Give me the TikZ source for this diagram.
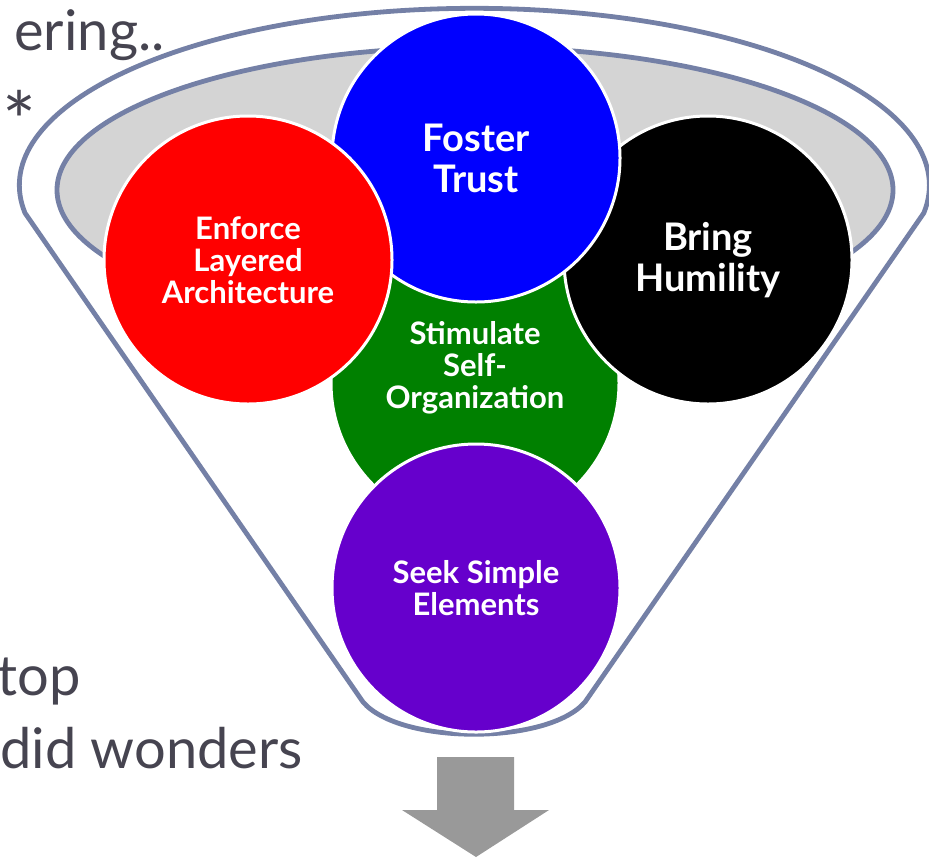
\documentclass[tikz,border=0pt]{standalone}
\usepackage{fontspec}
\setmainfont{Lato}
\usepackage{xcolor}
\usepackage{tikz}

\definecolor{rim}{RGB}{116,128,166}
\definecolor{rimfill}{RGB}{212,212,212}
\definecolor{slide}{RGB}{70,68,80}
\definecolor{ballgreen}{RGB}{0,128,0}
\definecolor{ballpurple}{RGB}{102,0,204}
\definecolor{arrowgrey}{RGB}{153,153,153}

\tikzset{
	ball/.style={circle, draw=white, line width=1.5pt, inner sep=0pt,
		minimum size=144pt, text=white, align=center,
		font=\bfseries\fontsize{15.5}{16}\selectfont},
	bigball/.style={ball, font=\bfseries\fontsize{19}{20.5}\selectfont},
	slidetext/.style={anchor=base west, inner sep=0pt, text=slide,
		font=\fontsize{28}{34}\selectfont}
}

\begin{document}
\begin{tikzpicture}[x=0.5pt,y=-0.5pt]
				\useasboundingbox (0,0) rectangle (929,857);
				\clip (0,0) rectangle (929,857);
				
				% slide text behind the funnel
				\node[slidetext] (hdr) at (14,50) {ering..};
				\node[slidetext, font=\fontsize{40}{44}\selectfont] (star) at (2,150) {*};
				\node[slidetext] (top) at (-3,695) {top};
				\node[slidetext] (won) at (0,768) {did wonders};
				
				% funnel
				\draw[rim, line width=2.4pt, fill=white]
					(25,213) arc[start angle=171, end angle=369, x radius=455, y radius=177]
					-- (585,702) .. controls (548,745) and (400,745) .. (363,702) -- cycle;
				\draw[rim, line width=2.4pt, fill=rimfill] (475,190) ellipse [x radius=418, y radius=143];
				
				\foreach \x/\y/\z in
				{G/475/383, K/708/260, B/476/158, R/248/260, P/476/588}{
					\coordinate(\x) at (\y,\z);
				}
				
				% balls, back to front
				\node[ball, fill=ballgreen] (self) at (G) {};
				\node[ball, draw=none, fill=none, minimum size=0pt]
					(selftxt) at ([yshift=7.5pt]G) {Stimulate\\Self-\\Organization};
				\node[bigball, fill=black] (hum) at (K) {Bring\\Humility};
				\node[bigball, fill=blue] (trust) at (B) {Foster\\Trust};
				\node[ball, fill=red] (layer) at (R) {Enforce\\Layered\\Architecture};
				\node[ball, fill=ballpurple] (simple) at (P) {Seek Simple\\Elements};
				
				% arrow out of the funnel
				\fill[arrowgrey] (437,757) -- (514,757) -- (514,810) -- (549,810)
					-- (476,857) -- (402,810) -- (437,810) -- cycle;
			\end{tikzpicture}
\end{document}
